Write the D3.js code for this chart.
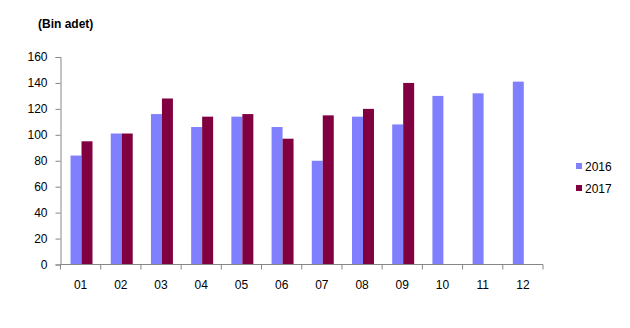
<!DOCTYPE html>
<html>
<head>
<meta charset="utf-8">
<script src="https://cdn.jsdelivr.net/npm/d3@7"></script>
<style>
  html, body { margin: 0; padding: 0; background: #fff; }
  svg { display: block; font-family: "Liberation Sans", Arial, sans-serif; }
</style>
</head>
<body>
<svg id="chart" width="630" height="328"></svg>
<script>
// Monthly figures (thousand units)
const months = ["01","02","03","04","05","06","07","08","09","10","11","12"];
const values2016 = [84, 101, 116, 106, 114, 106, 80, 114, 108, 130, 132, 141];
const values2017 = [95, 101, 128, 114, 116, 97, 115, 120, 140, null, null, null];
const seriesNames = ["2016", "2017"];
const yTicks = [0, 20, 40, 60, 80, 100, 120, 140, 160];

const colors = { "2016": "#8080ff", "2017": "#800040" };
const axisColor = "#868686";

const svg = d3.select("#chart");
const plot = { left: 60.5, right: 543, top: 57, bottom: 264.5 };

const x = d3.scaleBand().domain(months).range([plot.left, plot.right]).paddingInner(0).paddingOuter(0);
const y = d3.scaleLinear().domain([0, 160]).range([plot.bottom, plot.top]);
const xSeries = d3.scaleBand().domain(seriesNames).range([0, x.bandwidth()])
  .paddingInner(0).paddingOuter(0.83).align(0.55);

const rows = months.map((m, i) => ({ month: m, "2016": values2016[i], "2017": values2017[i] }));

// Bars
const groups = svg.append("g").selectAll("g")
  .data(rows).join("g")
  .attr("transform", d => `translate(${x(d.month)},0)`);

groups.selectAll("rect")
  .data(d => seriesNames.filter(s => d[s] != null).map(s => ({ key: s, value: d[s] })))
  .join("rect")
  .attr("x", d => xSeries(d.key))
  .attr("width", xSeries.bandwidth())
  .attr("y", d => y(d.value))
  .attr("height", d => y(0) - y(d.value))
  .attr("fill", d => colors[d.key]);

// Y axis
const yAxis = svg.append("g")
  .attr("transform", `translate(${plot.left},0)`)
  .call(d3.axisLeft(y).tickValues(yTicks).tickSize(5).tickPadding(8).tickFormat(d3.format("d")));
yAxis.select(".domain").attr("stroke", axisColor);
yAxis.selectAll(".tick line").attr("stroke", axisColor);
yAxis.selectAll("text").attr("font-size", 12).attr("fill", "#000");

// X axis: ticks at category boundaries, labels centred in each band
const xAxis = svg.append("g").attr("transform", `translate(0,${plot.bottom})`);
xAxis.append("line")
  .attr("x1", plot.left).attr("x2", plot.right)
  .attr("stroke", axisColor);
const boundaries = months.map(m => x(m)).concat([x(months[months.length - 1]) + x.bandwidth()]);
xAxis.selectAll("line.tick").data(boundaries).join("line")
  .attr("class", "tick")
  .attr("x1", d => d).attr("x2", d => d)
  .attr("y1", 0).attr("y2", 5)
  .attr("stroke", axisColor);
xAxis.selectAll("text").data(months).join("text")
  .attr("x", d => x(d) + x.bandwidth() / 2)
  .attr("y", 24)
  .attr("text-anchor", "middle")
  .attr("font-size", 12)
  .attr("fill", "#000")
  .text(d => d);

// Unit label
svg.append("text")
  .attr("x", 38).attr("y", 28)
  .attr("font-size", 12).attr("font-weight", "bold")
  .attr("fill", "#000")
  .text("(Bin adet)");

// Legend
const legend = svg.append("g").attr("transform", "translate(576,166)");
seriesNames.forEach((s, i) => {
  const g = legend.append("g").attr("transform", `translate(0,${i * 22})`);
  g.append("rect").attr("x", 0).attr("y", -3).attr("width", 6).attr("height", 6).attr("fill", colors[s]);
  g.append("text").attr("x", 9).attr("y", 4.5).attr("font-size", 12).attr("fill", "#000").text(s);
});
</script>
</body>
</html>
